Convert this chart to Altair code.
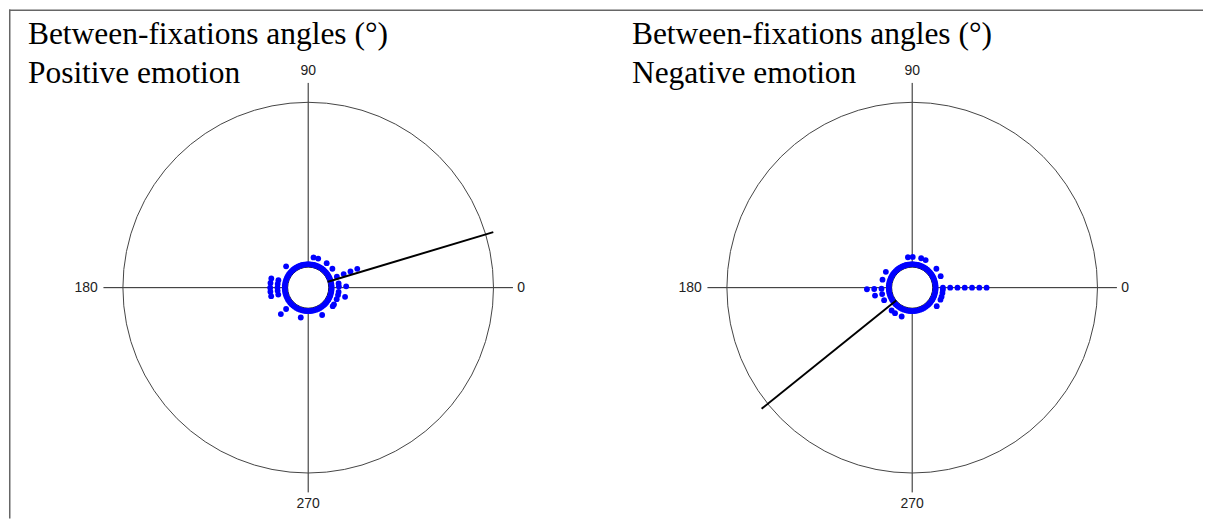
import altair as alt
import pandas as pd

# ---------------- data ----------------
panel_titles = ["Positive emotion", "Negative emotion"]
title_top = "Between-fixations angles (°)"

tick_angles = [0, 90, 180, 270]
tick_labels = ["0", "90", "180", "270"]

# base ring of points (one point per angle bin, all around the inner circle)
ring_angles = [0, 5, 10, 15, 20, 25, 30, 35, 40, 45, 50, 55, 60, 65, 70, 75, 80, 85,
               90, 95, 100, 105, 110, 115, 120, 125, 130, 135, 140, 145, 150, 155, 160, 165,
               170, 175, 180, 185, 190, 195, 200, 205, 210, 215, 220, 225, 230, 235, 240, 245,
               250, 255, 260, 265, 270, 275, 280, 285, 290, 295, 300, 305, 310, 315, 320, 325,
               330, 335, 340, 345, 350, 355]

# extra points stacked radially above the base ring (angle in degrees, number of extra points)
pos_stack_angles = [80, 71, 53, 38, 21, 8, 2, 352, 346, 338, 327, 323, 297, 256, 224, 136,
                    166, 173, 180, 186, 193]
pos_stack_extra = [1, 1, 1, 1, 4, 1, 2, 1, 2, 1, 1, 1, 1, 1, 2, 1,
                   2, 2, 2, 2, 2]

neg_stack_angles = [98, 89, 73, 64, 38, 22, 0, 356, 350, 343, 337, 323, 250, 236, 228, 204,
                    192, 182, 165, 149]
neg_stack_extra = [1, 1, 1, 1, 1, 1, 7, 1, 1, 1, 1, 1, 1, 1, 1, 1,
                   2, 3, 1, 1]

# mean direction (degrees) per panel
mean_angles = [16.7, 218.8]

# ---------------- tables built from the arrays ----------------
rows = []
for p in range(2):
    for a in ring_angles:
        rows.append({"panel": p, "angle": a, "level": 0})
for p, (angs, extras) in enumerate([(pos_stack_angles, pos_stack_extra),
                                    (neg_stack_angles, neg_stack_extra)]):
    for a, n in zip(angs, extras):
        for k in range(1, n + 1):
            rows.append({"panel": p, "angle": a, "level": k})
points = pd.DataFrame(rows)

ticks = pd.DataFrame([{"panel": p, "angle": a, "label": l}
                      for p in range(2) for a, l in zip(tick_angles, tick_labels)])
centers = pd.DataFrame({"panel": [0, 1]})
means = pd.DataFrame({"panel": [0, 1], "angle": mean_angles})
titles = pd.DataFrame({"panel": [0, 1], "line1": [title_top, title_top], "line2": panel_titles})

# ---------------- layout constants ----------------
W, H = 1196, 510
U = 185.6                      # pixels per unit radius
PANEL_SHIFT = 605 / U          # distance between panel centres (units)
XDOM = [-299.7 / U, (W - 299.7) / U]
YDOM = [(278.7 - H) / U, 278.7 / U]
R0, STEP = 0.1265, 0.0393      # base ring radius and stacking step
INNER = 0.111                  # inner circle radius
AXIS_LEN = 1.105

xs = alt.Scale(domain=XDOM, nice=False, zero=False)
ys = alt.Scale(domain=YDOM, nice=False, zero=False)
cx = f"datum.panel * {PANEL_SHIFT}"


def X(f="x"):
    return alt.X(f"{f}:Q", scale=xs, axis=None)


def Y(f="y"):
    return alt.Y(f"{f}:Q", scale=ys, axis=None)


axes = alt.Chart(ticks).transform_calculate(
    x=cx, y="0",
    x2=f"{cx} + {AXIS_LEN} * cos(datum.angle * PI / 180)",
    y2=f"{AXIS_LEN} * sin(datum.angle * PI / 180)",
).mark_rule(color="#222222", strokeWidth=1).encode(x=X(), y=Y(), x2="x2:Q", y2="y2:Q")

outer = alt.Chart(centers).transform_calculate(x=cx, y="0").mark_point(
    shape="circle", size=(2 * U) ** 2, filled=False, stroke="#444444",
    strokeWidth=1, opacity=1
).encode(x=X(), y=Y())

inner = alt.Chart(centers).transform_calculate(x=cx, y="0").mark_point(
    shape="circle", size=(2 * INNER * U) ** 2, filled=True, fill="white",
    stroke="#111111", strokeWidth=1, opacity=1, fillOpacity=1
).encode(x=X(), y=Y())

dots = alt.Chart(points).transform_calculate(
    r=f"{R0} + datum.level * {STEP}"
).transform_calculate(
    x=f"{cx} + datum.r * cos(datum.angle * PI / 180)",
    y="datum.r * sin(datum.angle * PI / 180)",
).mark_circle(size=34, color="#0000ff", opacity=1).encode(x=X(), y=Y())

mean_line = alt.Chart(means).transform_calculate(
    x=f"{cx} + {INNER} * cos(datum.angle * PI / 180)",
    y=f"{INNER} * sin(datum.angle * PI / 180)",
    x2=f"{cx} + 1.043 * cos(datum.angle * PI / 180)",
    y2="1.043 * sin(datum.angle * PI / 180)",
).mark_rule(color="black", strokeWidth=2).encode(x=X(), y=Y(), x2="x2:Q", y2="y2:Q")

lab_font = dict(font="Liberation Sans", fontSize=14, color="#222222")
lab_r = alt.Chart(ticks).transform_filter("datum.angle == 0").transform_calculate(
    x=f"{cx} + 1.128", y="0"
).mark_text(align="left", baseline="middle", **lab_font).encode(x=X(), y=Y(), text="label:N")
lab_l = alt.Chart(ticks).transform_filter("datum.angle == 180").transform_calculate(
    x=f"{cx} - 1.135", y="0"
).mark_text(align="right", baseline="middle", **lab_font).encode(x=X(), y=Y(), text="label:N")
lab_v = alt.Chart(ticks).transform_filter("datum.angle == 90 || datum.angle == 270").transform_calculate(
    x=cx, y="1.167 * sin(datum.angle * PI / 180)"
).mark_text(align="center", baseline="middle", **lab_font).encode(x=X(), y=Y(), text="label:N")

tfont = dict(font="Liberation Serif", fontSize=31.5, color="black", align="left", baseline="alphabetic")
t1 = alt.Chart(titles).transform_calculate(
    x=f"{cx} - 1.5125"
).mark_text(**tfont).encode(x=X(), y=alt.value(35), text="line1:N")
t2 = alt.Chart(titles).transform_calculate(
    x=f"{cx} - 1.5125"
).mark_text(**tfont).encode(x=X(), y=alt.value(74), text="line2:N")

frame_top = alt.Chart(centers.head(1)).mark_rule(color="#666666", strokeWidth=1.5).encode(
    x=alt.value(0), x2=alt.value(W), y=alt.value(0.75))
frame_left = alt.Chart(centers.head(1)).mark_rule(color="#666666", strokeWidth=1.5).encode(
    x=alt.value(0.75), y=alt.value(0), y2=alt.value(H))

chart = alt.layer(
    frame_top, frame_left, axes, outer, inner, dots, mean_line, lab_r, lab_l, lab_v, t1, t2
).properties(width=W, height=H, padding=0).configure_view(stroke=None)

chart.save("out.html", embed_options={"renderer": "svg", "actions": False})
